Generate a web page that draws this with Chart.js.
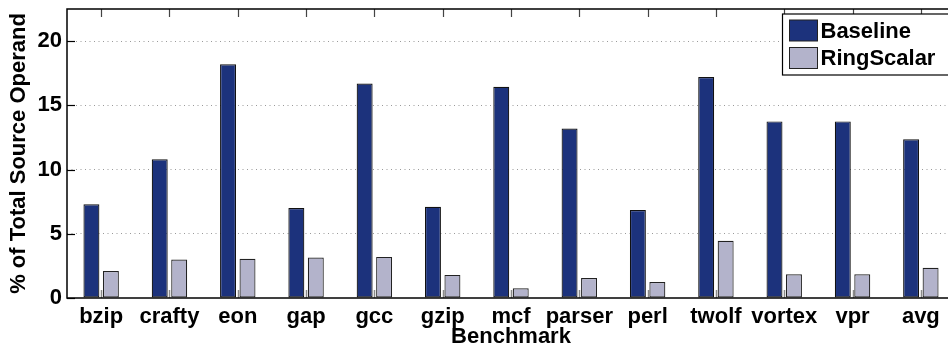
<!DOCTYPE html>
<html>
<head>
<meta charset="utf-8">
<script src="https://cdn.jsdelivr.net/npm/chart.js@4"></script>
<style>
  html, body { margin: 0; padding: 0; background: #fff; overflow: hidden; }
  #wrap { width: 958px; height: 350px; }
</style>
</head>
<body>
<div id="wrap"><canvas id="c" width="958" height="350"></canvas></div>
<script>
// Benchmarks and the share of source operands per configuration
const benchmarks = ['bzip', 'crafty', 'eon', 'gap', 'gcc', 'gzip', 'mcf', 'parser', 'perl', 'twolf', 'vortex', 'vpr', 'avg'];
const baseline   = [7.3, 10.8, 18.2, 7.0, 16.7, 7.1, 16.45, 13.2, 6.85, 17.2, 13.75, 13.75, 12.35];
const ringScalar = [2.1, 3.0, 3.05, 3.15, 3.2, 1.8, 0.75, 1.55, 1.25, 4.45, 1.85, 1.85, 2.35];
const yTicks     = [0, 5, 10, 15, 20];

const FONT = "'Liberation Sans', Arial, Helvetica, sans-serif";
const NAVY = '#1c327c';
const LAVENDER = '#b3b3cb';

// Axes box, inward tick marks and a boxed legend
const framePlugin = {
  id: 'frame',
  beforeDatasetsDraw(chart) {
    const { ctx, chartArea: a, scales: { x } } = chart;
    ctx.save();
    ctx.strokeStyle = '#8a8a8a';
    ctx.lineWidth = 1.5;
    x.ticks.forEach((t, i) => {
      const px = Math.round(x.getPixelForTick(i)) + 0.5;
      ctx.beginPath(); ctx.moveTo(px, a.bottom); ctx.lineTo(px, a.bottom - 8); ctx.stroke();
    });
    ctx.restore();
  },
  afterDatasetsDraw(chart) {
    const { ctx, chartArea: a, scales: { x, y } } = chart;
    ctx.save();
    // top ticks
    ctx.strokeStyle = '#444';
    ctx.lineWidth = 1.2;
    x.ticks.forEach((t, i) => {
      const px = Math.round(x.getPixelForTick(i)) + 0.5;
      ctx.beginPath(); ctx.moveTo(px, a.top); ctx.lineTo(px, a.top + 8); ctx.stroke();
    });
    // left ticks
    ctx.strokeStyle = '#000';
    y.ticks.forEach((t, i) => {
      const py = Math.round(y.getPixelForTick(i)) + 0.5;
      ctx.beginPath(); ctx.moveTo(a.left, py); ctx.lineTo(a.left + 8, py); ctx.stroke();
    });
    // frame
    ctx.lineWidth = 1.5;
    ctx.strokeStyle = '#000';
    ctx.strokeRect(a.left, a.top, a.right - a.left, a.bottom - a.top);

    // legend
    const lx = 782.5, ly = a.top + 5, lw = 172, lh = 61;
    ctx.fillStyle = '#fff';
    ctx.fillRect(lx, ly, lw, lh);
    ctx.lineWidth = 1.2;
    ctx.strokeStyle = '#000';
    ctx.strokeRect(lx, ly, lw, lh);
    ctx.font = 'bold 22px ' + FONT;
    ctx.textBaseline = 'middle';
    chart.data.datasets.forEach((ds, i) => {
      const sy = ly + 6 + i * 27.5;
      ctx.fillStyle = ds.backgroundColor;
      ctx.fillRect(lx + 7, sy, 28, 21);
      ctx.strokeStyle = '#222';
      ctx.lineWidth = 1;
      ctx.strokeRect(lx + 7, sy, 28, 21);
      ctx.fillStyle = '#000';
      ctx.fillText(ds.label, lx + 38, sy + 11.5);
    });
    ctx.restore();
  }
};

new Chart(document.getElementById('c'), {
  type: 'bar',
  data: {
    labels: benchmarks,
    datasets: [
      { label: 'Baseline', data: baseline, backgroundColor: NAVY, borderColor: '#111', borderWidth: 1.2, borderSkipped: false },
      { label: 'RingScalar', data: ringScalar, backgroundColor: LAVENDER, borderColor: '#222', borderWidth: 1.2, borderSkipped: false }
    ]
  },
  options: {
    responsive: false,
    animation: false,
    events: [],
    layout: { padding: { top: 9, right: 3, left: 0, bottom: 0 } },
    categoryPercentage: 0.57,
    barPercentage: 0.82,
    plugins: {
      legend: { display: false },
      tooltip: { enabled: false }
    },
    scales: {
      x: {
        grid: { display: false, drawTicks: false },
        border: { display: false },
        ticks: { color: '#000', font: { family: FONT, size: 22, weight: 'bold' }, padding: 6, maxRotation: 0, autoSkip: false },
        title: { display: true, text: 'Benchmark', color: '#000', font: { family: FONT, size: 22, weight: 'bold' }, padding: { top: 0, bottom: 0 } },
        afterFit(s) { s.height = 52; s.paddingLeft = 0; s.paddingRight = 0; }
      },
      y: {
        min: 0,
        max: 22.5,
        afterBuildTicks(s) { s.ticks = yTicks.map(v => ({ value: v })); },
        grid: {
          color: ctx => (ctx.tick && ctx.tick.value === 0 ? 'rgba(0,0,0,0)' : '#9a9a9a'),
          lineWidth: 1,
          drawTicks: false
        },
        border: { display: false, dash: [1, 3.5] },
        ticks: { color: '#000', font: { family: FONT, size: 22, weight: 'bold' }, padding: 5 },
        title: { display: true, text: '% of Total Source Operand', color: '#000', font: { family: FONT, size: 22, weight: 'bold' }, padding: { top: 6, bottom: 0 } },
        afterFit(s) { s.width = 67; s.paddingTop = 0; s.paddingBottom = 0; }
      }
    }
  },
  plugins: [framePlugin]
});
</script>
</body>
</html>
